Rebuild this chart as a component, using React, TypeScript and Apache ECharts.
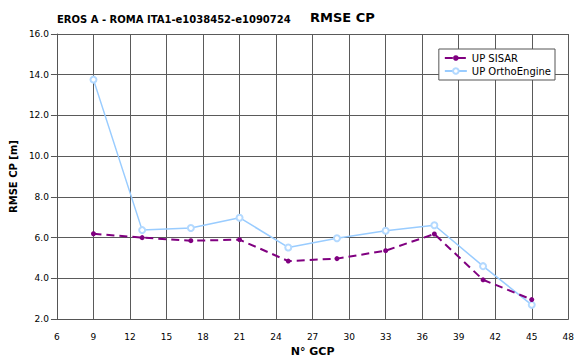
import React, { useEffect, useRef } from "react";
import * as echarts from "echarts";

const gcpCounts = [9, 13, 17, 21, 25, 29, 33, 37, 41, 45];
const sisarValues = [6.19, 6.0, 5.85, 5.9, 4.85, 4.97, 5.36, 6.18, 3.93, 2.96];
const orthoValues = [13.76, 6.37, 6.47, 6.98, 5.52, 5.97, 6.34, 6.61, 4.6, 2.7];
const seriesNames = ["UP SISAR", "UP OrthoEngine"];
const subTitle = "EROS A - ROMA ITA1-e1038452-e1090724";
const mainTitle = "RMSE CP";

const FONT = "DejaVu Sans";

export default function App() {
  const ref = useRef<HTMLDivElement>(null);
  useEffect(() => {
    if (!ref.current) return;
    const chart = echarts.init(ref.current, undefined, { renderer: "svg" });
    chart.setOption({
      animation: false,
      backgroundColor: "#fff",
      textStyle: { fontFamily: FONT },
      title: [
        {
          text: subTitle,
          left: 52,
          top: 9,
          textStyle: { fontSize: 10, fontWeight: "bold", color: "#000", fontFamily: FONT },
        },
        {
          text: mainTitle,
          left: 305,
          top: 6,
          textStyle: { fontSize: 13, fontWeight: "bold", color: "#000", fontFamily: FONT },
        },
      ],
      legend: {
        right: 22,
        top: 49,
        orient: "vertical",
        backgroundColor: "#fff",
        borderColor: "#555",
        borderWidth: 1,
        padding: [4, 4, 4, 5],
        itemGap: 3,
        itemWidth: 22,
        itemHeight: 7,
        textStyle: { fontSize: 10, color: "#000", fontFamily: FONT },
        data: seriesNames,
      },
      grid: { left: 55, right: 4, top: 34, bottom: 37 },
      xAxis: {
        type: "value",
        min: 6,
        max: 48,
        interval: 3,
        name: "N° GCP",
        nameLocation: "middle",
        nameGap: 25,
        nameTextStyle: { fontSize: 11, fontWeight: "bold", color: "#000", fontFamily: FONT },
        axisLine: { lineStyle: { color: "#555", width: 1 } },
        axisTick: { show: false },
        axisLabel: { fontSize: 9, color: "#000", margin: 13 },
        splitLine: { show: true, lineStyle: { color: "#5a5a5a", width: 1 } },
      },
      yAxis: {
        type: "value",
        min: 2,
        max: 16,
        interval: 2,
        name: "RMSE CP [m]",
        nameLocation: "middle",
        nameGap: 35,
        nameTextStyle: { fontSize: 10, fontWeight: "bold", color: "#000", fontFamily: FONT },
        axisLine: { show: true, lineStyle: { color: "#555", width: 1 } },
        axisTick: { show: true, length: 6, lineStyle: { color: "#555" } },
        axisLabel: { fontSize: 9, color: "#000", margin: 8, formatter: (v: number) => v.toFixed(1) },
        splitLine: { show: true, lineStyle: { color: "#5a5a5a", width: 1 } },
      },
      series: [
        {
          name: seriesNames[0],
          type: "line",
          data: gcpCounts.map((x, i) => [x, sisarValues[i]]),
          symbol: "circle",
          symbolSize: 5,
          itemStyle: { color: "#800080" },
          lineStyle: { color: "#800080", width: 2, type: [8, 5] },
          z: 3,
        },
        {
          name: seriesNames[1],
          type: "line",
          data: gcpCounts.map((x, i) => [x, orthoValues[i]]),
          symbol: "emptyCircle",
          symbolSize: 6,
          itemStyle: { color: "#b3d9ff", borderWidth: 0.8 },
          lineStyle: { color: "#99ccff", width: 1.5 },
          z: 2,
        },
      ],
    });
    return () => chart.dispose();
  }, []);
  return (
    <div
      ref={ref}
      style={{ position: "absolute", left: 0, top: 0, width: 577, height: 362 }}
    />
  );
}
